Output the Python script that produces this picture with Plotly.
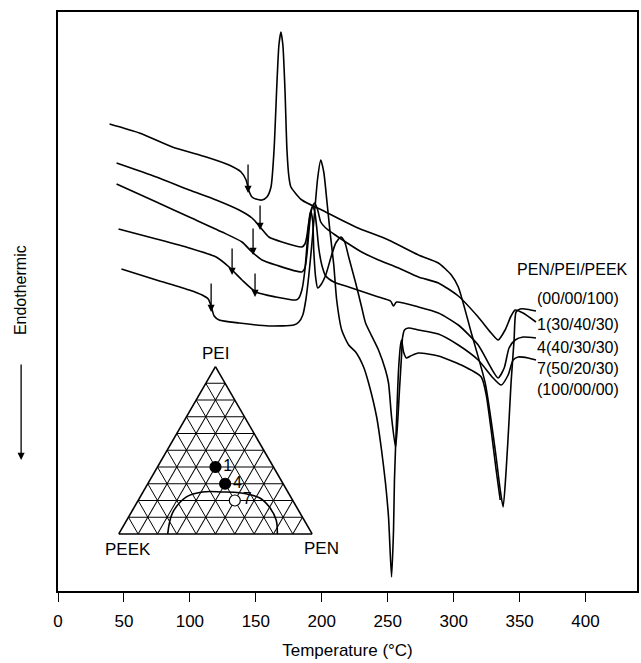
import plotly.graph_objects as go

# ---------------- DSC curves (temperature in °C, heat flow in arbitrary units, endo down) -------------
peek_T = [39.1, 61.7, 86.7, 112.4, 129.7, 138.8, 142.6, 144.8, 147.1, 150.1, 154.7, 158.4, 161.5, 163.8,
          166.0, 167.5, 169.0, 170.5, 172.1, 173.6, 175.1, 176.6, 184.9, 200.0, 225.7, 250.6, 273.3, 288.4,
          298.2, 303.5, 313.4, 323.9, 331.5, 335.3, 337.5, 339.8, 342.0, 343.5, 345.8, 347.3, 350.4, 354.1, 362.4]
peek_H = [467, 458, 444, 434, 426, 419, 411, 400, 394, 392, 391, 394, 404, 441,
          508, 546, 559, 546, 501, 441, 414, 404, 391, 381, 364, 351, 336, 328,
          316, 304, 258, 208, 141, 101, 84, 121, 171, 208, 251, 279, 282, 282, 280]

b1_T = [44.4, 74.6, 99.5, 119.9, 137.3, 147.1, 153.9, 159.9, 169.8, 184.9, 187.2, 188.7, 190.2, 192.4,
        194.7, 196.9, 199.2, 203.0, 209.1, 218.1, 230.2, 243.0, 258.2, 273.3, 288.4, 303.5, 318.6, 328.4,
        333.7, 339.0, 343.5, 346.6, 352.6, 362.4]
b1_H = [428, 414, 401, 391, 381, 373, 363, 354, 349, 344, 347, 355, 369, 383,
        388, 381, 369, 363, 357, 349, 339, 331, 323, 314, 308, 295, 274, 258,
        251, 261, 275, 281, 278, 269]

b4_T = [44.4, 74.6, 99.5, 124.4, 139.5, 147.1, 154.7, 165.2, 184.9, 187.2, 188.7, 190.2, 191.7, 193.2,
        194.7, 196.2, 197.7, 200.0, 203.0, 209.1, 220.4, 231.7, 243.0, 252.1, 254.4, 256.7, 273.3, 288.4,
        303.5, 318.6, 328.4, 333.7, 338.3, 342.0, 346.6, 352.6, 362.4]
b4_H = [407, 389, 374, 359, 349, 339, 331, 326, 319, 323, 336, 359, 378, 384,
        379, 363, 343, 326, 315, 309, 304, 299, 294, 290, 285, 289, 284, 278,
        266, 246, 223, 213, 223, 243, 251, 254, 253]

b7_T = [45.9, 74.6, 99.5, 119.9, 129.7, 139.5, 150.1, 165.2, 180.4, 182.6, 184.9, 187.2, 189.4, 190.9,
        191.7, 193.2, 193.9, 195.4, 196.9, 199.2, 203.0, 206.8, 210.6, 214.4, 217.4, 220.4, 225.7, 230.2,
        233.2, 243.0, 248.3, 250.6, 252.9, 255.9, 257.4, 258.9, 260.5, 261.2, 262.7, 265.7, 273.3, 288.4,
        303.5, 318.6, 329.9, 336.0, 341.3, 345.1, 348.9, 356.4, 362.4]
b7_H = [362, 352, 343, 334, 324, 311, 299, 294, 291, 293, 301, 321, 356, 376,
        380, 369, 341, 313, 303, 306, 316, 333, 348, 354, 349, 334, 308, 284,
        268, 241, 221, 208, 174, 144, 166, 201, 236, 253, 261, 263, 261, 257,
        246, 231, 213, 206, 216, 231, 234, 233, 231]

pen_T = [48.1, 74.6, 99.5, 109.3, 113.9, 116.1, 118.4, 122.2, 137.3, 159.9, 178.8, 182.6, 185.6, 187.9,
         190.2, 192.4, 194.7, 196.9, 199.2, 201.5, 203.8, 206.1, 209.1, 211.3, 215.1, 220.4, 225.7, 231.7,
         235.5, 241.6, 245.3, 248.3, 250.6, 252.9, 254.4, 255.1, 256.7, 258.2, 259.7, 260.5, 262.0, 264.2,
         267.3, 273.3, 288.4, 305.8, 320.9, 324.7, 328.4, 332.2, 335.3]
pen_H = [322, 311, 301, 296, 292, 285, 275, 271, 268, 265, 266, 269, 276, 291,
         316, 346, 381, 413, 431, 419, 391, 361, 326, 291, 261, 246, 239, 224,
         208, 174, 141, 108, 74, 14, 61, 111, 171, 221, 246, 251, 239, 233,
         235, 238, 235, 226, 214, 196, 161, 121, 91]

# Glass-transition arrows: (temperature, tail height, tip height)
arrow_T = [144.1, 153.2, 147.9, 132.0, 149.4, 116.1]
arrow_tail = [428, 387, 364, 344, 319, 309]
arrow_tip = [398, 361, 336, 316, 294, 279]

legend_title = "PEN/PEI/PEEK"
legend_labels = ["(00/00/100)", "1(30/40/30)", "4(40/30/30)", "7(50/20/30)", "(100/00/00)"]
legend_T = [394.2, 394.2, 394.2, 394.2, 394.2]
legend_H = [293, 267, 244, 223, 202]

x_ticks = [0, 50, 100, 150, 200, 250, 300, 350, 400]

# ---------------- Ternary inset (a = PEI, b = PEEK, c = PEN) ----------------
blend_names = ["1", "4", "7"]
blend_PEI = [40, 30, 20]
blend_PEEK = [30, 30, 30]
blend_PEN = [30, 40, 50]

bound_PEI = [0, 12.6, 22.2, 25.1, 25.1, 24.6, 21.6, 16.2, 8.4, 0]
bound_PEEK = [74.7, 65.9, 53.9, 44.2, 33.9, 25.3, 16.5, 14.1, 14.4, 18.0]
bound_PEN = [25.3, 21.5, 23.9, 30.7, 41.0, 50.1, 61.9, 69.7, 77.2, 82.0]

FONT = "Liberation Sans, Arial, Helvetica, sans-serif"
LW = 1.6

fig = go.Figure()
for T, H in [(peek_T, peek_H), (b1_T, b1_H), (b4_T, b4_H), (b7_T, b7_H), (pen_T, pen_H)]:
    fig.add_trace(go.Scatter(x=T, y=H, mode="lines", line=dict(color="black", width=LW, shape="spline", smoothing=0.6),
                             showlegend=False, hoverinfo="skip"))

fig.add_trace(go.Scatterternary(a=bound_PEI, b=bound_PEEK, c=bound_PEN, mode="lines",
                                line=dict(color="black", width=1.6, shape="spline"), showlegend=False, hoverinfo="skip"))
fig.add_trace(go.Scatterternary(a=blend_PEI, b=blend_PEEK, c=blend_PEN, mode="markers+text",
                                text=blend_names, textposition="middle right",
                                textfont=dict(family=FONT, size=16, color="black"),
                                marker=dict(size=11, color=["black", "black", "white"],
                                            line=dict(color="black", width=1.2)),
                                showlegend=False, hoverinfo="skip"))

ann = []
for T, t0, t1 in zip(arrow_T, arrow_tail, arrow_tip):
    ann.append(dict(x=T, y=t1, ax=T, ay=t0, xref="x", yref="y", axref="x", ayref="y", text="",
                    showarrow=True, arrowhead=2, arrowsize=1.1, arrowwidth=1.3, arrowcolor="black", standoff=0))
ann.append(dict(x=390.4, y=322, xref="x", yref="y", text=legend_title, showarrow=False,
                xanchor="center", yanchor="middle", font=dict(family=FONT, size=16, color="black")))
for lab, T, H in zip(legend_labels, legend_T, legend_H):
    ann.append(dict(x=T, y=H, xref="x", yref="y", text=lab, showarrow=False,
                    xanchor="center", yanchor="middle", font=dict(family=FONT, size=16, color="black")))

# y label and arrow
ann.append(dict(x=-0.0637, y=0.5199, xref="paper", yref="paper", text="Endothermic", textangle=-90,
                xanchor="center", yanchor="middle",
                showarrow=False, font=dict(family=FONT, size=16, color="black")))
ann.append(dict(x=-0.0637, y=0.2263, xref="paper", yref="paper", text="", showarrow=True, ax=0, ay=-97,
                arrowhead=2, arrowsize=1.1, arrowwidth=1.3, arrowcolor="black", standoff=0))

# ternary vertex labels
for txt, px, py in [("PEI", 216, 353), ("PEEK", 128, 549), ("PEN", 322, 548)]:
    ann.append(dict(x=(px - 58) / 581, y=(591 - py) / 579, xref="paper", yref="paper", text=txt,
                    xanchor="center", yanchor="middle",
                    showarrow=False, font=dict(family=FONT, size=17, color="black")))

tern_axis = dict(title=dict(text=""), showgrid=True, gridcolor="#000000", gridwidth=1.4, linecolor="black",
                 linewidth=1.6, dtick=10, tick0=0, showticklabels=False, ticks="", min=0)

fig.update_layout(
    width=641, height=663,
    margin=dict(l=58, r=2, t=12, b=72),
    paper_bgcolor="white", plot_bgcolor="white",
    font=dict(family=FONT, color="black"),
    xaxis=dict(range=[0, 439], tickvals=x_ticks, ticks="outside", ticklen=9, tickwidth=1.3, tickcolor="black",
               ticklabelstandoff=5,
               showline=True, linecolor="black", linewidth=1.5, mirror=True, showgrid=False, zeroline=False,
               tickfont=dict(family=FONT, size=17, color="black"),
               title=dict(text="Temperature (°C)", font=dict(family=FONT, size=17, color="black"), standoff=14)),
    yaxis=dict(range=[0, 579], showticklabels=False, ticks="", showline=True, linecolor="black", linewidth=1.5,
               mirror=True, showgrid=False, zeroline=False),
    ternary=dict(domain=dict(x=[(119 - 58) / 581, (313 - 58) / 581], y=[0.09456, 0.3916]), sum=100,
                 bgcolor="white", aaxis=tern_axis, baxis=tern_axis, caxis=tern_axis),
    annotations=ann,
)

fig.write_html("out.html")
